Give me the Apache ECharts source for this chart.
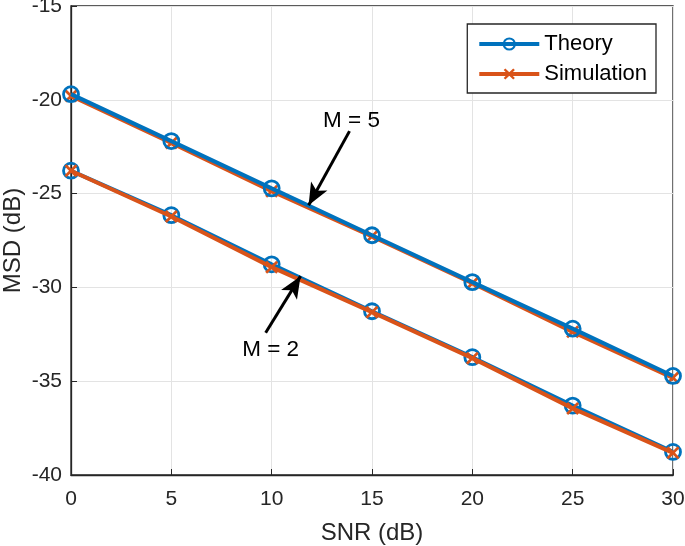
<!DOCTYPE html>
<html>
<head>
<meta charset="utf-8">
<script src="https://cdn.jsdelivr.net/npm/echarts@6/dist/echarts.min.js"></script>
<style>html,body{margin:0;padding:0;background:#fff;}#c{width:685px;height:546px;}</style>
</head>
<body>
<div id="c"></div>
<script>
var snr = [0, 5, 10, 15, 20, 25, 30];
var theoryM5 = [-19.7, -22.2, -24.72, -27.22, -29.72, -32.2, -34.72];
var simM5    = [-19.8, -22.3, -24.87, -27.28, -29.78, -32.37, -34.82];
var theoryM2 = [-23.78, -26.15, -28.77, -31.27, -33.72, -36.3, -38.77];
var simM2    = [-23.78, -26.22, -28.92, -31.32, -33.77, -36.45, -38.82];
var xTicks = [0, 5, 10, 15, 20, 25, 30];
var yTicks = [-40, -35, -30, -25, -20, -15];
var arrowM5 = [[13.88, -21.67], [11.84, -25.62]];
var arrowM2 = [[9.70, -32.42], [11.44, -29.40]];
var labelM5 = [13.98, -21.1];
var labelM2 = [9.95, -33.35];

var BLUE = '#0072BD', ORANGE = '#D95319', FONT = 'Liberation Sans';
var crossPath = 'path://M1.5,0 L5,3.5 L8.5,0 L10,1.5 L6.5,5 L10,8.5 L8.5,10 L5,6.5 L1.5,10 L0,8.5 L3.5,5 L0,1.5 Z';

function pairs(xs, ys) { return xs.map(function (x, i) { return [x, ys[i]]; }); }

function theorySeries(ys) {
  return {
    name: 'Theory', type: 'line', data: pairs(snr, ys), color: BLUE,
    symbol: 'circle', symbolSize: 15,
    lineStyle: { color: BLUE, width: 4 },
    itemStyle: { color: 'rgba(255,255,255,0)', borderColor: BLUE, borderWidth: 2.8 },
    emphasis: { disabled: true }, animation: false, z: 3
  };
}
function simSeries(ys, z) {
  return {
    name: 'Simulation', type: 'line', data: pairs(snr, ys), color: ORANGE,
    symbol: crossPath, symbolSize: 13,
    lineStyle: { color: ORANGE, width: 4 },
    itemStyle: { color: ORANGE },
    emphasis: { disabled: true }, animation: false, z: z
  };
}

var s1 = simSeries(simM5, 2);
var s2 = theorySeries(theoryM5);
var s3 = theorySeries(theoryM2);
var s4 = simSeries(simM2, 4);

var annot = {
  type: 'line', data: [], silent: true, animation: false, z: 10,
  markLine: {
    silent: true, animation: false, symbol: ['none', 'arrow'], symbolSize: [14, 22],
    lineStyle: { color: '#000', width: 3, type: 'solid' }, label: { show: false },
    data: [
      [{ coord: arrowM5[0] }, { coord: arrowM5[1] }],
      [{ coord: arrowM2[0] }, { coord: arrowM2[1] }]
    ]
  },
  markPoint: {
    silent: true, animation: false, symbol: 'circle', symbolSize: 0,
    label: { show: true, position: 'inside', formatter: '{b}', color: '#000', fontFamily: FONT, fontSize: 22.5 },
    data: [
      { name: 'M = 5', coord: labelM5 },
      { name: 'M = 2', coord: labelM2 }
    ]
  }
};

var chart = echarts.init(document.getElementById('c'), null, { renderer: 'canvas' });
chart.setOption({
  backgroundColor: '#fff',
  animation: false,
  grid: { left: 71, right: 12, top: 6, bottom: 71, outerBoundsMode: 'none', containLabel: false,
    show: true, borderColor: '#262626', borderWidth: 1.3, backgroundColor: 'transparent' },
  legend: {
    data: ['Theory', 'Simulation'], right: 29, top: 24, orient: 'vertical',
    backgroundColor: '#fff', borderColor: '#262626', borderWidth: 1.3,
    padding: [9, 9, 8, 10], itemGap: 8, itemWidth: 60, itemHeight: 14,
    lineStyle: { width: 4 },
    textStyle: { fontFamily: FONT, fontSize: 22, lineHeight: 22, color: '#000' }
  },
  xAxis: {
    type: 'value', min: 0, max: 30, interval: 5,
    name: 'SNR (dB)', nameLocation: 'middle', nameGap: 46, nameMoveOverlap: false,
    nameTextStyle: { fontFamily: FONT, fontSize: 24, color: '#262626' },
    axisLine: { show: true, lineStyle: { color: '#262626', width: 1.3 } },
    axisTick: { show: true, inside: true, length: 6, lineStyle: { color: '#262626' } },
    axisLabel: { fontFamily: FONT, fontSize: 21, color: '#262626', margin: 14,
      formatter: function (v) { return xTicks.indexOf(v) >= 0 ? String(v) : ''; } },
    splitLine: { show: true, lineStyle: { color: '#e3e3e3', width: 1 } }
  },
  yAxis: {
    type: 'value', min: -40, max: -15, interval: 5,
    name: 'MSD (dB)', nameLocation: 'middle', nameGap: 46, nameRotate: 90, nameMoveOverlap: false,
    nameTextStyle: { fontFamily: FONT, fontSize: 24, color: '#262626' },
    axisLine: { show: true, lineStyle: { color: '#262626', width: 1.3 } },
    axisTick: { show: true, inside: true, length: 6, lineStyle: { color: '#262626' } },
    axisLabel: { fontFamily: FONT, fontSize: 21, color: '#262626', margin: 9,
      formatter: function (v) { return yTicks.indexOf(v) >= 0 ? String(v) : ''; } },
    splitLine: { show: true, lineStyle: { color: '#e3e3e3', width: 1 } }
  },
  series: [s1, s2, s3, s4, annot]
});
</script>
</body>
</html>
